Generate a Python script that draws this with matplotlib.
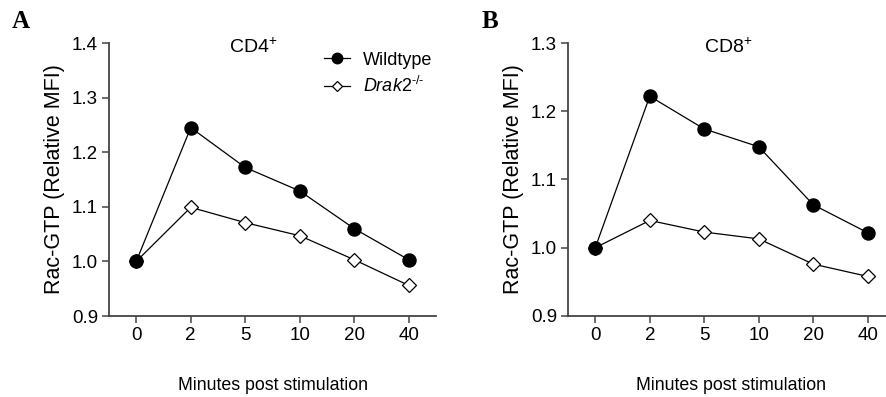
import numpy as np
import matplotlib
matplotlib.use("Agg")
import matplotlib.pyplot as plt

plt.rcParams['font.family'] = ['Liberation Sans', 'DejaVu Sans']
plt.rcParams['mathtext.fontset'] = 'custom'
plt.rcParams['mathtext.rm'] = 'Liberation Sans'
plt.rcParams['mathtext.it'] = 'Liberation Sans:italic'

# data
minutes = ['0', '2', '5', '10', '20', '40']
cd4_wt = [1.000, 1.245, 1.172, 1.129, 1.060, 1.003]
cd4_ko = [1.000, 1.099, 1.071, 1.047, 1.003, 0.956]
cd8_wt = [1.000, 1.222, 1.174, 1.148, 1.063, 1.022]
cd8_ko = [1.000, 1.040, 1.023, 1.013, 0.976, 0.958]

W, H = 886, 397
fig = plt.figure(figsize=(W / 100, H / 100), dpi=100)

def px_axes(x0, y0, x1, y1):
    # left, top, right, bottom in pixels
    return fig.add_axes([x0 / W, 1 - y1 / H, (x1 - x0) / W, (y1 - y0) / H])

ax1 = px_axes(109, 43, 436, 316)
ax2 = px_axes(568, 43, 895, 316)

panels = [
    (ax1, cd4_wt, cd4_ko, 'CD4$^{+}$', 0.44, (0.9, 1.4), [0.9, 1.0, 1.1, 1.2, 1.3, 1.4]),
    (ax2, cd8_wt, cd8_ko, 'CD8$^{+}$', 0.49, (0.9, 1.3), [0.9, 1.0, 1.1, 1.2, 1.3]),
]

x = np.arange(len(minutes))
for ax, wt, ko, title, tx, ylim, yt in panels:
    ax.plot(x, ko, color='black', lw=0.9, marker='D', ms=6.8, mfc='white',
            mec='black', mew=0.9, label='$\\mathit{Drak2}^{\\text{-/-}}$', zorder=3)
    ax.plot(x, wt, color='black', lw=0.9, marker='o', ms=9.4, mfc='black',
            mec='black', label='Wildtype', zorder=4)
    ax.set_xlim(-0.5, 5.5)
    ax.set_ylim(*ylim)
    ax.set_yticks(yt)
    ax.set_yticklabels(['%.1f' % v for v in yt])
    ax.set_xticks(x)
    ax.set_xticklabels(minutes)
    for s in ['top', 'right']:
        ax.spines[s].set_visible(False)
    for s in ['left', 'bottom']:
        ax.spines[s].set_color('#444444')
        ax.spines[s].set_linewidth(1.3)
    ax.tick_params(direction='out', length=5, width=1.1, color='#444444',
                   labelsize=13.5, pad=3)
    ax.set_ylabel('Rac-GTP (Relative MFI)', fontsize=15.5, labelpad=5)
    ax.set_xlabel('Minutes post stimulation', fontsize=12.8, labelpad=24)
    ax.text(tx, 0.985, title, transform=ax.transAxes, fontsize=14,
            ha='center', va='center')
    ax.patch.set_alpha(0)
    for c in ax.get_children():
        if hasattr(c, 'set_clip_on'):
            c.set_clip_on(False)

h, l = ax1.get_legend_handles_labels()
ax1.legend(h[::-1], l[::-1], loc='upper left', bbox_to_anchor=(0.635, 0.995),
           frameon=False, fontsize=13, handlelength=1.45, handletextpad=0.7,
           labelspacing=0.4, borderaxespad=0, markerscale=0.8)

fig.text(12 / W, 1 - 28 / H, 'A', fontsize=18, fontweight='bold', family='Liberation Serif')
fig.text(482 / W, 1 - 28 / H, 'B', fontsize=18, fontweight='bold', family='Liberation Serif')

fig.savefig('out.png', dpi=100)
